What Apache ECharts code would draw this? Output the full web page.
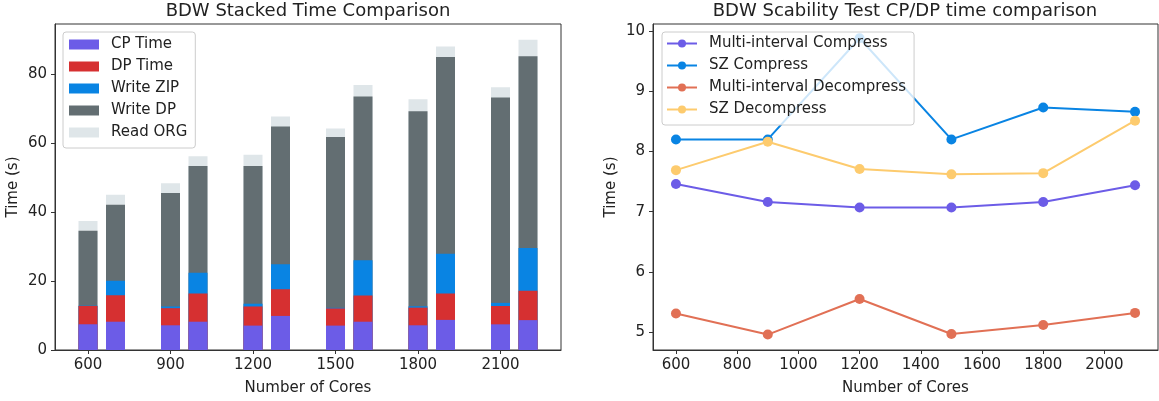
<!DOCTYPE html>
<html>
<head>
<meta charset="utf-8">
<script src="https://cdn.jsdelivr.net/npm/echarts@6/dist/echarts.min.js"></script>
<style>
html, body { margin: 0; padding: 0; background: #fff; }
#main { width: 1159px; height: 401px; }
</style>
</head>
<body>
<div id="main"></div>
<script>
// core counts (x)
var cores = [600, 900, 1200, 1500, 1800, 2100];
// SZ bar sits next to the multi-interval bar
var szShift = 100;

// stacked segments, multi-interval bars
var miCP = [7.46, 7.16, 7.07, 7.07, 7.16, 7.44];
var miDP = [5.31, 4.96, 5.55, 4.97, 5.12, 5.32];
var miZIP = [0.1, 0.5, 0.8, 0.2, 0.4, 0.9];
var miWriteDP = [21.7, 32.9, 39.9, 49.5, 56.5, 59.5];
var miReadORG = [2.8, 2.8, 3.3, 2.5, 3.5, 3.0];

// stacked segments, SZ bars
var szCP = [8.20, 8.20, 9.88, 8.20, 8.73, 8.66];
var szDP = [7.69, 8.16, 7.71, 7.62, 7.64, 8.51];
var szZIP = [4.2, 6.0, 7.3, 10.2, 11.5, 12.4];
var szWriteDP = [22.0, 31.0, 39.9, 47.5, 57.1, 55.6];
var szReadORG = [2.9, 2.8, 2.9, 3.3, 3.0, 4.8];

var leftTicksX = [600, 900, 1200, 1500, 1800, 2100];
var leftTicksY = [0, 20, 40, 60, 80];
var rightTicksX = [600, 800, 1000, 1200, 1400, 1600, 1800, 2000];
var rightTicksY = [5, 6, 7, 8, 9, 10];

var FONT = 'DejaVu Sans';
var TXT = '#222';
var FS = 15;

var barDefs = [
    ['CP Time', '#6c5ce7', miCP, szCP],
    ['DP Time', '#d63031', miDP, szDP],
    ['Write ZIP', '#0984e3', miZIP, szZIP],
    ['Write DP', '#636e72', miWriteDP, szWriteDP],
    ['Read ORG', '#dfe6e9', miReadORG, szReadORG]
];
var lineDefs = [
    ['Multi-interval Compress', '#6c5ce7', miCP],
    ['SZ Compress', '#0984e3', szCP],
    ['Multi-interval Decompress', '#e17055', miDP],
    ['SZ Decompress', '#fdcb6e', szDP]
];

// running totals so each segment can be drawn as a bar from zero, top segments first
var miSum = cores.map(function () { return 0; });
var szSum = cores.map(function () { return 0; });
var barSeries = [];
barDefs.forEach(function (d) {
    var pts = [];
    for (var i = 0; i < cores.length; i++) {
        miSum[i] += d[2][i];
        szSum[i] += d[3][i];
        pts.push([cores[i], miSum[i]]);
        pts.push([cores[i] + szShift, szSum[i]]);
    }
    barSeries.push({
        name: d[0], type: 'bar',
        xAxisIndex: 0, yAxisIndex: 0,
        barWidth: 19, barGap: '-100%',
        itemStyle: {color: d[1]},
        data: pts
    });
});
barSeries.reverse();

var series = barSeries.slice();
lineDefs.forEach(function (d) {
    series.push({
        name: d[0], type: 'line',
        xAxisIndex: 1, yAxisIndex: 1,
        symbol: 'circle', symbolSize: 10,
        lineStyle: {color: d[1], width: 2},
        itemStyle: {color: d[1]},
        data: cores.map(function (c, i) { return [c, d[2][i]]; })
    });
});

function axisX(idx, min, max, ticks) {
    return {
        type: 'value', gridIndex: idx, min: min, max: max,
        name: 'Number of Cores', nameLocation: 'middle', nameGap: 31,
        nameTextStyle: {fontFamily: FONT, fontSize: FS, color: TXT},
        splitLine: {show: false},
        axisLine: {show: true, lineStyle: {color: '#333'}},
        axisTick: {show: true, length: 4, customValues: ticks, lineStyle: {color: '#333'}},
        axisLabel: {customValues: ticks, margin: 8, fontFamily: FONT, fontSize: FS, color: TXT,
            formatter: function (v) { return String(v); }}
    };
}
function axisY(idx, min, max, ticks) {
    return {
        type: 'value', gridIndex: idx, min: min, max: max,
        name: 'Time (s)', nameLocation: 'middle', nameGap: 34,
        nameTextStyle: {fontFamily: FONT, fontSize: FS, color: TXT},
        splitLine: {show: false},
        axisLine: {show: true, lineStyle: {color: '#333'}},
        axisTick: {show: true, length: 4, customValues: ticks, lineStyle: {color: '#333'}},
        axisLabel: {customValues: ticks, margin: 8, fontFamily: FONT, fontSize: FS, color: TXT,
            formatter: function (v) { return String(v); }}
    };
}
function legendBox(left, items, pad) {
    return {
        orient: 'vertical', left: left, top: 32,
        data: items,
        itemWidth: 30, itemHeight: 10, itemGap: 7,
        padding: pad,
        borderColor: '#ccc', borderWidth: 1, borderRadius: 3,
        backgroundColor: 'rgba(255,255,255,0.8)',
        textStyle: {fontFamily: FONT, fontSize: FS, color: TXT, lineHeight: 15, padding: [0, 0, 0, 7]}
    };
}

var chart = echarts.init(document.getElementById('main'));
chart.setOption({
    animation: false,
    backgroundColor: '#fff',
    title: [
        {text: 'BDW Stacked Time Comparison', left: 308, top: 2, padding: 0, textAlign: 'center',
            textStyle: {fontFamily: FONT, fontSize: 18, fontWeight: 'normal', color: TXT}},
        {text: 'BDW Scability Test CP/DP time comparison', left: 905, top: 2, padding: 0, textAlign: 'center',
            textStyle: {fontFamily: FONT, fontSize: 18, fontWeight: 'normal', color: TXT}}
    ],
    grid: [
        {left: 55, top: 24, width: 506, height: 328, show: true, borderColor: '#333', borderWidth: 1},
        {left: 653, top: 24, width: 505, height: 328, show: true, borderColor: '#333', borderWidth: 1}
    ],
    xAxis: [axisX(0, 480, 2320, leftTicksX), axisX(1, 525, 2175, rightTicksX)],
    yAxis: [axisY(0, 0, 94.5, leftTicksY), axisY(1, 4.704, 10.116, rightTicksY)],
    legend: [
        legendBox(63, barDefs.map(function (d) { return {name: d[0], icon: 'rect'}; }), [5, 8, 8, 6]),
        legendBox(662, lineDefs.map(function (d) { return d[0]; }), [4, 8, 8, 4])
    ],
    series: series
});
</script>
</body>
</html>
